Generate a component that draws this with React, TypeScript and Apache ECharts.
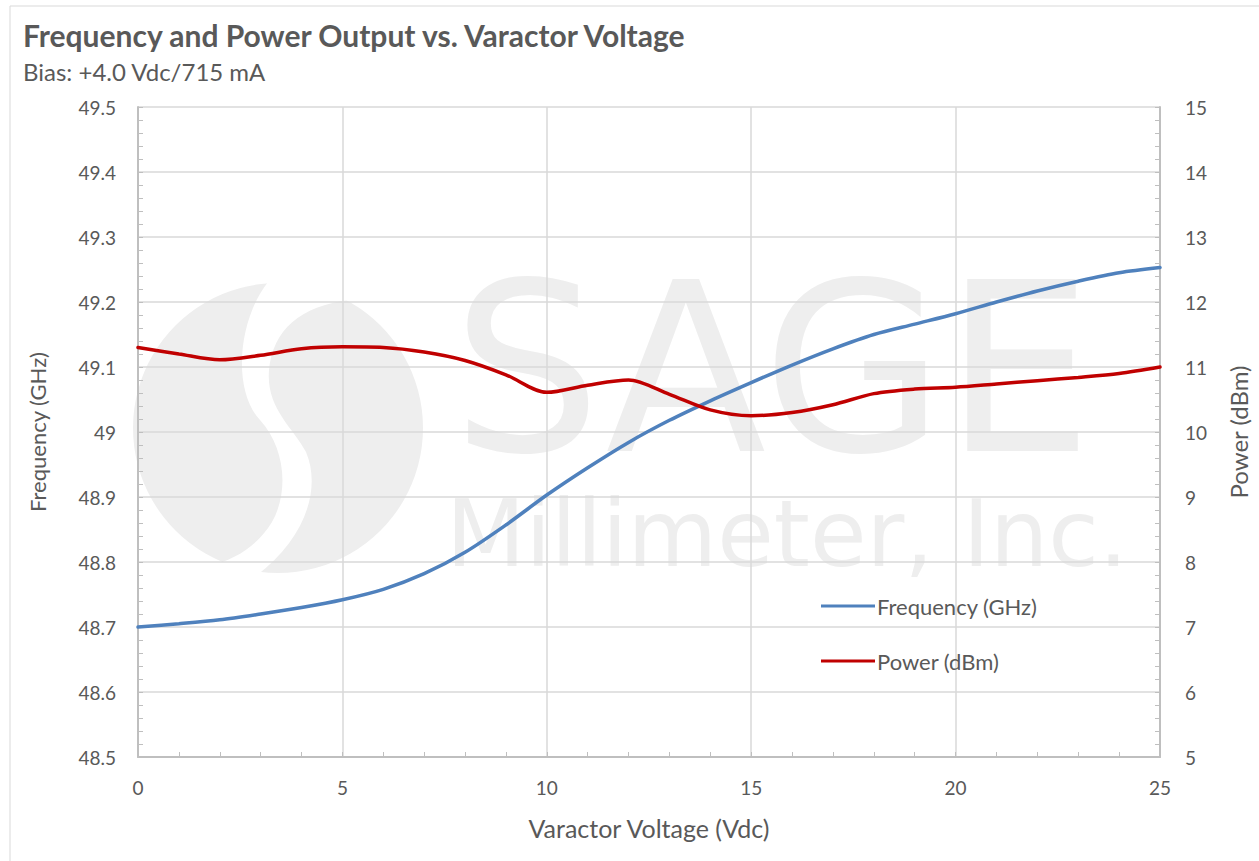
import React, { useEffect, useRef } from "react";
import * as echarts from "echarts";

const voltage = [0,1,2,3,4,5,6,7,8,9,10,11,12,13,14,15,16,17,18,19,20,21,22,23,24,25];
const frequencyGHz = [48.700,48.705,48.711,48.720,48.730,48.742,48.758,48.782,48.815,48.857,48.903,48.945,48.984,49.018,49.048,49.076,49.103,49.128,49.150,49.166,49.182,49.200,49.217,49.232,49.245,49.253];
const powerDbm = [11.30,11.20,11.11,11.18,11.28,11.31,11.30,11.23,11.10,10.88,10.61,10.72,10.80,10.58,10.34,10.25,10.30,10.42,10.59,10.66,10.69,10.74,10.79,10.84,10.90,11.00];

const titleText = "Frequency and Power Output vs. Varactor Voltage";
const subtitleText = "Bias: +4.0 Vdc/715 mA";

const FONT = "Lato, 'Open Sans', sans-serif";
const TXT = "#595959";

const bandPath =
  "M 268 282 C 238 320 232 390 260 420 C 284 446 290 490 272 522 C 258 545 236 560 208 566 L 256 576 C 304 540 322 490 306 452 C 292 426 266 408 269 370 C 273 330 300 306 350 300 L 330 270 Z";

let registered = false;

export default function App() {
  const ref = useRef<HTMLDivElement>(null);
  useEffect(() => {
    document.body.style.margin = "0";
    if (!registered) {
      echarts.graphic.registerShape("logo", echarts.graphic.extendPath(bandPath, {}));
      registered = true;
    }
    const chart = echarts.init(ref.current!, null, { renderer: "svg" });
    const wm = "#eeeeee";
    chart.setOption({
      animation: false,
      backgroundColor: "#ffffff",
      graphic: [
        { type: "rect", z: -20, shape: { x: 10, y: 6, width: 1400, height: 1000 }, style: { fill: "#fff", stroke: "#d9d9d9", lineWidth: 1 } },
        { type: "circle", z: -10, shape: { cx: 278, cy: 428, r: 145 }, style: { fill: wm } },
        { type: "logo", z: -9, x: 0, y: 0, style: { fill: "#ffffff" } },
        { type: "text", z: -10, x: 452, y: 369, style: { text: "SAGE", font: "235px 'DejaVu Sans', sans-serif", lineHeight: 180, fill: wm, verticalAlign: "middle" } },
        { type: "text", z: -10, x: 446, y: 534, style: { text: "Millimeter, Inc.", font: "92px 'DejaVu Sans', sans-serif", lineHeight: 76, fill: wm, verticalAlign: "middle" } },
        { type: "text", x: 23, y: 35, style: { text: titleText, font: `bold 30px ${FONT}`, fill: TXT, verticalAlign: "middle" } },
        { type: "text", x: 23, y: 71, style: { text: subtitleText, font: `24px ${FONT}`, fill: TXT, verticalAlign: "middle" } },
      ],
      grid: { left: 138, right: 99, top: 107, bottom: 104, containLabel: false },
      legend: {
        orient: "vertical",
        left: 816,
        top: 590,
        itemGap: 33,
        itemWidth: 54,
        itemHeight: 3,
        icon: "rect",
        textStyle: { fontFamily: FONT, fontSize: 22, color: TXT, padding: [0, 0, 0, -3] },
        data: ["Frequency (GHz)", "Power (dBm)"],
      },
      xAxis: {
        type: "value",
        min: 0,
        max: 25,
        interval: 5,
        name: "Varactor Voltage (Vdc)",
        nameLocation: "middle",
        nameGap: 58,
        nameTextStyle: { fontFamily: FONT, fontSize: 25, color: TXT },
        axisLine: { show: true, lineStyle: { color: "#bfbfbf", width: 2 } },
        axisTick: { show: true, inside: true, length: 5, lineStyle: { color: "#bfbfbf" } },
        minorTick: { show: true, splitNumber: 5, length: 5, lineStyle: { color: "#bfbfbf" } },
        axisLabel: { fontFamily: FONT, fontSize: 19, color: TXT, margin: 21 },
        splitLine: { show: true, lineStyle: { color: "#d9d9d9", width: 1.5 } },
      },
      yAxis: [
        {
          type: "value",
          min: 48.5,
          max: 49.5,
          interval: 0.1,
          name: "Frequency (GHz)",
          nameLocation: "middle",
          nameRotate: 90,
          nameGap: 90,
          nameTextStyle: { fontFamily: FONT, fontSize: 22, color: TXT },
          axisLine: { show: true, lineStyle: { color: "#bfbfbf", width: 2 } },
          axisTick: { show: true, inside: true, length: 5, lineStyle: { color: "#bfbfbf" } },
          minorTick: { show: true, splitNumber: 5, length: 5, lineStyle: { color: "#bfbfbf" } },
          axisLabel: { fontFamily: FONT, fontSize: 19, color: TXT, margin: 22, formatter: (v: number) => String(Math.round(v * 10) / 10) },
          splitLine: { show: true, lineStyle: { color: "#d9d9d9", width: 1.5 } },
        },
        {
          type: "value",
          min: 5,
          max: 15,
          interval: 1,
          position: "right",
          name: "Power (dBm)",
          nameLocation: "middle",
          nameRotate: 90,
          nameGap: 66,
          nameTextStyle: { fontFamily: FONT, fontSize: 24, color: TXT },
          axisLine: { show: true, lineStyle: { color: "#bfbfbf", width: 2 } },
          axisTick: { show: true, inside: true, length: 5, lineStyle: { color: "#bfbfbf" } },
          minorTick: { show: true, splitNumber: 5, length: 5, lineStyle: { color: "#bfbfbf" } },
          axisLabel: { fontFamily: FONT, fontSize: 19, color: TXT, margin: 25 },
          splitLine: { show: false },
        },
      ],
      series: [
        {
          name: "Frequency (GHz)",
          type: "line",
          yAxisIndex: 0,
          smooth: 0.3,
          showSymbol: false,
          symbol: "none",
          lineStyle: { color: "#4f81bd", width: 3.5, cap: "round" },
          itemStyle: { color: "#4f81bd" },
          data: voltage.map((v, i) => [v, frequencyGHz[i]]),
          z: 3,
        },
        {
          name: "Power (dBm)",
          type: "line",
          yAxisIndex: 1,
          smooth: 0.3,
          showSymbol: false,
          symbol: "none",
          lineStyle: { color: "#c00000", width: 3.5, cap: "round" },
          itemStyle: { color: "#c00000" },
          data: voltage.map((v, i) => [v, powerDbm[i]]),
          z: 4,
        },
      ],
    });
    return () => chart.dispose();
  }, []);
  return <div ref={ref} style={{ width: 1259, height: 861 }} />;
}
